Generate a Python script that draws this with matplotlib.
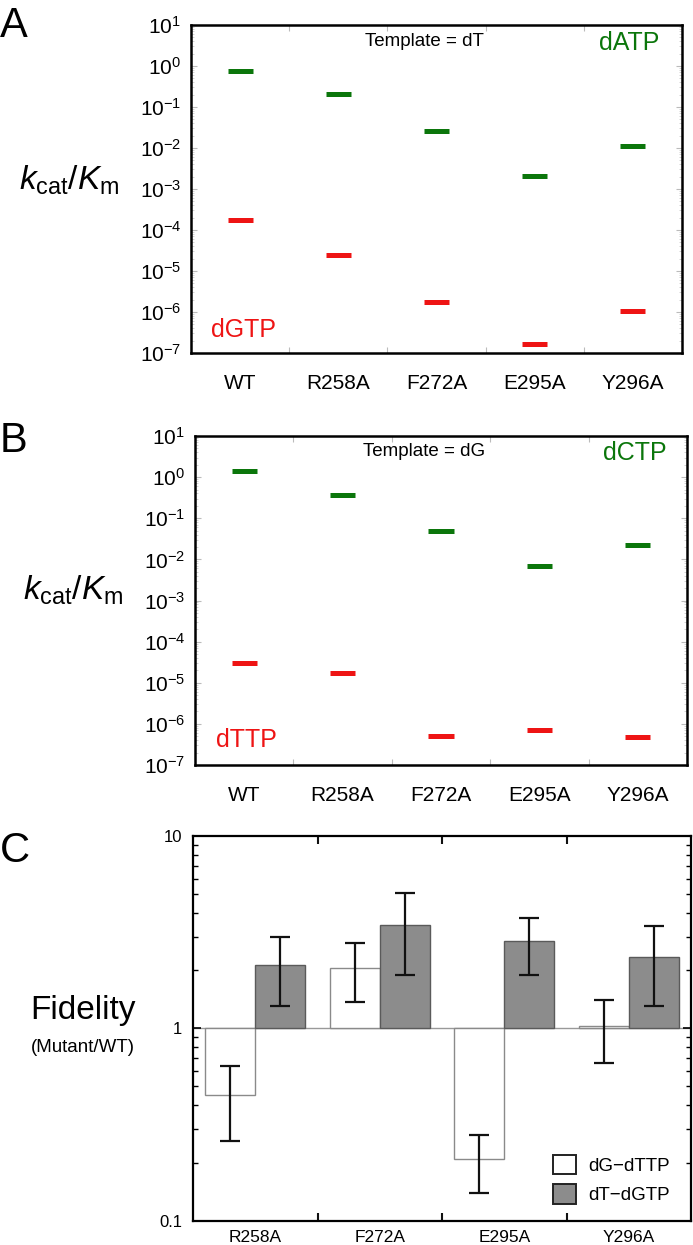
import numpy as np
import matplotlib
matplotlib.use("Agg")
import matplotlib.pyplot as plt
from matplotlib.patches import Patch

plt.rcParams["font.family"] = ["Liberation Sans", "DejaVu Sans"]
plt.rcParams["mathtext.fontset"] = "custom"
plt.rcParams["mathtext.rm"] = "Liberation Sans"
plt.rcParams["mathtext.it"] = "Liberation Sans:italic"

# ---- data ----
enzymes = ["WT", "R258A", "F272A", "E295A", "Y296A"]

# panel A, template = dT
dATP = [0.77, 0.21, 0.026, 0.0021, 0.011]
dGTP = [1.8e-4, 2.4e-5, 1.8e-6, 1.7e-7, 1.07e-6]

# panel B, template = dG
dCTP = [1.4, 0.36, 0.048, 0.0069, 0.022]
dTTP = [3.1e-5, 1.75e-5, 5.1e-7, 7.1e-7, 4.7e-7]

# panel C, fidelity mutant/WT
mutants = ["R258A", "F272A", "E295A", "Y296A"]
fid_dG_dTTP = [0.448, 2.07, 0.209, 1.03]
fid_dG_lo = [0.259, 1.37, 0.139, 0.657]
fid_dG_hi = [0.64, 2.77, 0.279, 1.40]
fid_dT_dGTP = [2.13, 3.46, 2.83, 2.36]
fid_dT_lo = [1.31, 1.89, 1.90, 1.31]
fid_dT_hi = [2.98, 5.03, 3.76, 3.41]

GREEN = "#0b760b"
RED = "#ee1414"

W, H = 693, 1245
fig = plt.figure(figsize=(W / 100, H / 100), dpi=100)


def px(x, y):
    return x / W, 1 - y / H


def ftext(x, y, s, **kw):
    fig.text(*px(x, y), s, **kw)


def rate_panel(rect, correct, wrong):
    ax = fig.add_axes(rect)
    x = np.arange(len(enzymes))
    ax.set_yscale("log")
    ax.set_ylim(1e-7, 1e1)
    ax.set_xlim(-0.5, len(enzymes) - 0.5)
    ax.hlines(correct, x - 0.128, x + 0.128, colors=GREEN, lw=3.6)
    ax.hlines(wrong, x - 0.128, x + 0.128, colors=RED, lw=3.6)

    ax.set_yticks([10.0 ** k for k in range(-7, 2)])
    ax.set_yticklabels([rf"$10^{{{k}}}$" for k in range(-7, 2)], fontsize=15)
    ax.set_xticks(x[:-1] + 0.5)
    ax.set_xticklabels([])
    ax.set_xticks(x, minor=True)
    ax.set_xticklabels(enzymes, minor=True, fontsize=15)
    ax.tick_params(axis="x", which="major", direction="in", length=4, width=0.8,
                   color="#bbbbbb", top=True)
    ax.tick_params(axis="x", which="minor", length=0, pad=15)
    ax.tick_params(axis="y", which="major", direction="in", length=4, width=0.8,
                   color="#bbbbbb", right=True, pad=7)
    ax.tick_params(axis="y", which="minor", direction="in", length=2, width=0.6,
                   color="#cccccc", right=True)
    for s in ax.spines.values():
        s.set_linewidth(1.8)
    return ax


axA = rate_panel([191 / W, 1 - 353 / H, 491 / W, 328 / H], dATP, dGTP)
axB = rate_panel([195 / W, 1 - 765 / H, 492 / W, 329 / H], dCTP, dTTP)

ylab = r"$k_{\mathrm{cat}}/K_{\mathrm{m}}$"
ftext(0, 37, "A", fontsize=30, va="baseline")
ftext(69, 180, ylab, fontsize=24, ha="center", va="center")
ftext(424, 42, "Template = dT", fontsize=13.5, ha="center", va="center")
ftext(629, 43, "dATP", fontsize=18, color=GREEN, ha="center", va="center")
ftext(243, 330, "dGTP", fontsize=18, color=RED, ha="center", va="center")

ftext(0, 452, "B", fontsize=30, va="baseline")
ftext(73, 590, ylab, fontsize=24, ha="center", va="center")
ftext(424, 452, "Template = dG", fontsize=13.5, ha="center", va="center")
ftext(635, 453, "dCTP", fontsize=18, color=GREEN, ha="center", va="center")
ftext(246, 740, "dTTP", fontsize=18, color=RED, ha="center", va="center")

# ---- panel C ----
axC = fig.add_axes([193 / W, 1 - 1220.7 / H, 498 / W, 384.7 / H])
xc = np.arange(len(mutants))
axC.set_yscale("log")
axC.set_ylim(0.1, 10)
axC.set_xlim(-0.5, len(mutants) - 0.5)
axC.axhline(1, color="#999999", lw=1.0, zorder=1)

wv = np.array(fid_dG_dTTP)
gv = np.array(fid_dT_dGTP)
axC.bar(xc - 0.2, wv - 1, bottom=1, width=0.4, color="white",
        edgecolor="#8a8a8a", lw=1.0, zorder=2)
axC.bar(xc + 0.2, gv - 1, bottom=1, width=0.4, color="#8c8c8c",
        edgecolor="#5a5a5a", lw=1.0, zorder=2)
axC.errorbar(xc - 0.2, wv, yerr=[wv - np.array(fid_dG_lo), np.array(fid_dG_hi) - wv],
             fmt="none", ecolor="#111111", elinewidth=1.6, capsize=7, capthick=1.6, zorder=3)
axC.errorbar(xc + 0.2, gv, yerr=[gv - np.array(fid_dT_lo), np.array(fid_dT_hi) - gv],
             fmt="none", ecolor="#111111", elinewidth=1.6, capsize=7, capthick=1.6, zorder=3)

axC.set_yticks([0.1, 1, 10])
axC.set_yticklabels(["0.1", "1", "10"], fontsize=12)
axC.set_xticks(xc[:-1] + 0.5)
axC.set_xticklabels([])
axC.set_xticks(xc, minor=True)
axC.set_xticklabels(mutants, minor=True, fontsize=12.5)
axC.tick_params(axis="x", which="major", direction="in", length=6, width=1.5,
                color="#111111", top=True)
axC.tick_params(axis="x", which="minor", length=0, pad=7)
axC.tick_params(axis="y", which="major", direction="in", length=6, width=1.2,
                right=True, pad=8)
axC.tick_params(axis="y", which="minor", direction="in", length=3.5, width=1.0,
                right=True, labelleft=False)
for s in axC.spines.values():
    s.set_linewidth(1.6)

handles = [Patch(facecolor="white", edgecolor="#222222", lw=1.4, label="dG\u2212dTTP"),
           Patch(facecolor="#8c8c8c", edgecolor="#222222", lw=1.4, label="dT\u2212dGTP")]
axC.legend(handles=handles, loc="lower left", bbox_to_anchor=(0.723, 0.043),
           frameon=False, fontsize=13.5, borderpad=0, borderaxespad=0,
           handlelength=1.23, handleheight=1.23, handletextpad=0.64, labelspacing=0.5)

ftext(0, 862, "C", fontsize=30, va="baseline")
ftext(83, 1010, "Fidelity", fontsize=24, ha="center", va="center")
ftext(83, 1048, "(Mutant/WT)", fontsize=13.5, ha="center", va="center")

fig.savefig("out.png", dpi=100)
